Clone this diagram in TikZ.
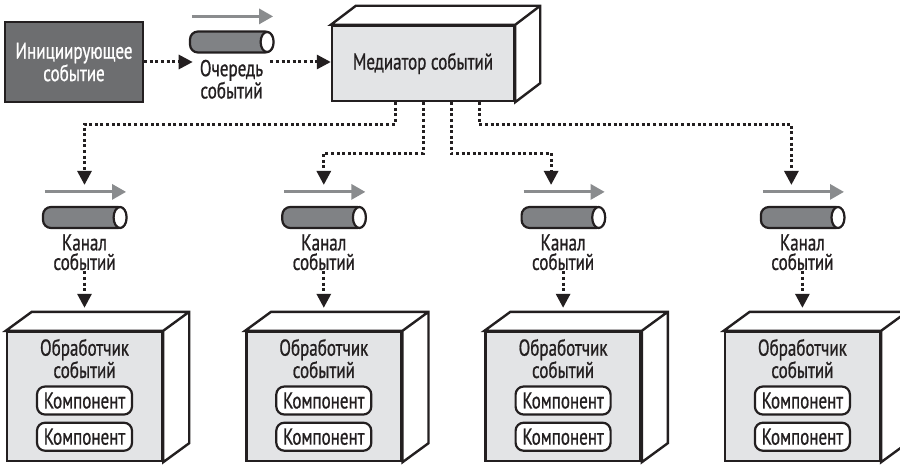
\documentclass[tikz,border=0pt]{standalone}
\usepackage{fontspec}
\setmainfont{PT Sans}[FakeStretch=0.74, FakeBold=0.8]
\usepackage{xcolor}
\definecolor{ink}{HTML}{231F20}
\definecolor{initfill}{HTML}{6D6E70}
\definecolor{facefill}{HTML}{E3E4E6}
\definecolor{pipefill}{HTML}{808285}
\definecolor{pipearrow}{HTML}{8A8C8E}
\usepackage{tikz}
\usetikzlibrary{arrows.meta,positioning,calc}

\begin{document}
\begin{tikzpicture}[
  x=1pt, y=-1pt,
  font=\fontsize{23}{19.5}\selectfont, text=ink,
  face/.style={draw=ink, line width=2.4pt, fill=facefill, inner sep=0pt},
  shell/.style={draw=ink, line width=2.4pt, fill=white},
  pipe/.style={draw=ink, line width=2.2pt, fill=pipefill, rounded corners=8pt,
    minimum width=83pt, minimum height=21pt, inner sep=0pt},
  pipeend/.style={draw=ink, line width=2.2pt, fill=white},
  flowdir/.style={pipearrow, line width=3pt, -{Triangle[length=14pt,width=15pt]}},
  flow/.style={ink, line width=3pt, dash pattern=on 3pt off 2.6pt,
    -{Triangle[length=14pt,width=14pt]}},
  chantext/.style={align=center, inner sep=1pt},
  comp/.style={draw=ink, line width=2.2pt, fill=white, rounded corners=8pt,
    minimum width=95pt, minimum height=28pt, inner sep=0pt}
]
\useasboundingbox (0,0) rectangle (900,465);

% initiating event and queue
\node[face, fill=initfill, text=white, align=center, minimum width=138pt,
  minimum height=80pt] (init) at (74,62) {Инициирующее\\событие};
\node[pipe] (queue) at (231.5,42) {};
\draw[pipeend] ([xshift=-7pt]queue.east) ellipse [x radius=6.5pt, y radius=10pt];
\draw[flowdir] ([xshift=3pt,yshift=14pt]queue.north west)
  -- ([xshift=-1pt,yshift=14pt]queue.north east);
\node[chantext, inner xsep=7pt, below=5pt of queue] (qtext) {Очередь\\событий};

% mediator
\node[face, minimum width=182pt, minimum height=75pt] (med) at (423,63.5)
  {Медиатор событий};
\draw[shell] (med.north west) -- ++(25,-19) -| ($(med.south east)+(25,-19)$)
  -- (med.south east) -- (med.north east) -- cycle
  (med.north east) -- ++(25,-19);

\draw[flow] (init.east) -- (init.east -| qtext.west);
\draw[flow] (init.east -| qtext.east) -- (init.east -| med.west);

% channels and processors
\foreach \i/\x in {1/84.5, 2/323.8, 3/563.1, 4/802.4} {
  \node[pipe] (ch\i) at (\x,217.5) {};
  \draw[pipeend] ([xshift=-7pt]ch\i.east) ellipse [x radius=6.5pt, y radius=10.5pt];
  \draw[flowdir] ([xshift=3pt,yshift=14pt]ch\i.north west)
    -- ([xshift=-1pt,yshift=14pt]ch\i.north east);
  \node[chantext, below=4pt of ch\i] (ct\i) {Канал\\событий};

  \node[face, minimum width=155pt, minimum height=129pt] (proc\i) at (\x,396.5) {};
  \draw[shell] (proc\i.north west) -- ++(26,-19) -| ($(proc\i.south east)+(26,-19)$)
    -- (proc\i.south east) -- (proc\i.north east) -- cycle
    (proc\i.north east) -- ++(26,-19);
  \node[chantext, below=7pt of proc\i.north] (title\i) {Обработчик\\событий};
  \node[comp, below=6pt of title\i] (compa\i) {Компонент};
  \node[comp, below=6pt of compa\i] (compb\i) {Компонент};

  \draw[flow] (ct\i) -- ([yshift=23pt]proc\i.north);
}

\draw[flow] ([xshift=-28pt]med.south) -- ++(0,22) -| ([yshift=21pt]ch1.north);
\draw[flow] (med.south) -- ++(0,51) -| ([yshift=21pt]ch2.north);
\draw[flow] ([xshift=28pt]med.south) -- ++(0,51) -| ([xshift=-12pt,yshift=21pt]ch3.north);
\draw[flow] ([xshift=56pt]med.south) -- ++(0,22) -| ([xshift=-11pt,yshift=21pt]ch4.north);
\end{tikzpicture}
\end{document}
